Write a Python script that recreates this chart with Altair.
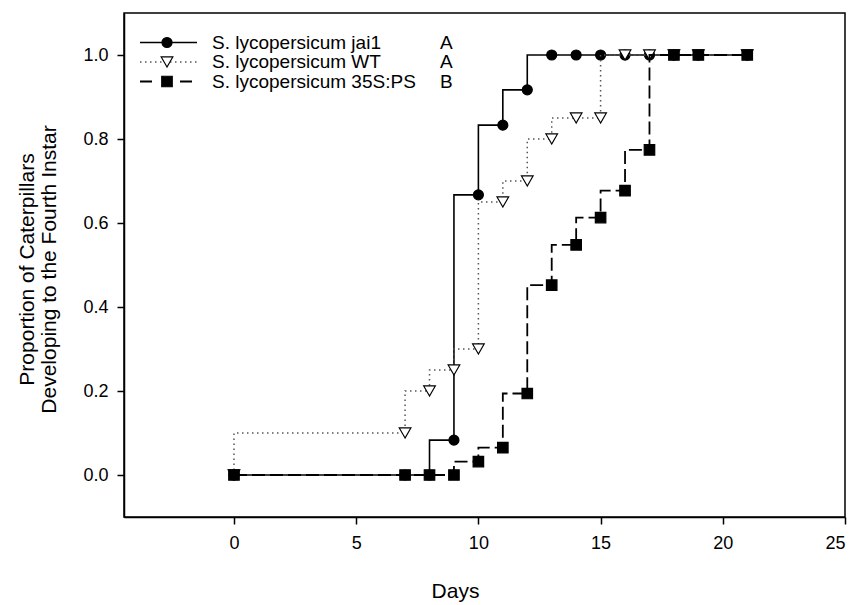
import altair as alt
import pandas as pd

# ---- data ----
days = [0, 7, 8, 9, 10, 11, 12, 13, 14, 15, 16, 17, 18, 19, 21]
jai1 = [0, 0, 0, 0.083, 0.667, 0.833, 0.917, 1, 1, 1, 1, 1, 1, 1, 1]
wt = [0, 0.1, 0.2, 0.25, 0.3, 0.65, 0.7, 0.8, 0.85, 0.85, 1, 1, 1, 1, 1]
ps = [0, 0, 0, 0, 0.032, 0.065, 0.194, 0.452, 0.548, 0.613, 0.677, 0.774, 1, 1, 1]
series_names = ["S. lycopersicum jai1", "S. lycopersicum WT", "S. lycopersicum 35S:PS"]
letters = ["A", "A", "B"]
x_ticks = [0, 5, 10, 15, 20, 25]
y_ticks = [0.0, 0.2, 0.4, 0.6, 0.8, 1.0]

FONT = "Liberation Sans"
W, H = 721, 504

xs = alt.Scale(domain=[-4.5, 25], nice=False, zero=False)
ys = alt.Scale(domain=[-0.1, 1.1], nice=False, zero=False)

styles = [
    dict(shape="circle", fill="black", size=100, dash=[1, 0], lw=1.6, col="black"),
    dict(shape="triangle-down", fill="white", size=135, dash=[1.5, 3.5], lw=1.5, col="#555555"),
    dict(shape="square", fill="black", size=110, dash=[13, 5], lw=1.8, col="black"),
]

layers = []
for name, vals, st in zip(series_names, [jai1, wt, ps], styles):
    df = pd.DataFrame({"Days": days, "P": vals, "series": name})
    base = alt.Chart(df)
    line = base.mark_line(interpolate="step-before", color=st["col"],
                          strokeWidth=st["lw"], strokeDash=st["dash"]).encode(
        x=alt.X("Days:Q", scale=xs),
        y=alt.Y("P:Q", scale=ys),
    )
    pts = base.mark_point(shape=st["shape"], filled=True, fill=st["fill"],
                          stroke="black", strokeWidth=1.2, size=st["size"],
                          opacity=1).encode(
        x=alt.X("Days:Q", scale=xs),
        y=alt.Y("P:Q", scale=ys),
    )
    layers += [line, pts]

# ---- axes (drawn by a layer with the axes defined) ----
axes = alt.Chart(pd.DataFrame({"Days": [0], "P": [0]})).mark_point(opacity=0).encode(
    x=alt.X("Days:Q", scale=xs, title="Days",
            axis=alt.Axis(values=x_ticks, format="d", grid=False, tickSize=7,
                          labelPadding=10, titleX=331, titleY=74,
                          titleBaseline="middle", titleAnchor="start", titleAlign="center")),
    y=alt.Y("P:Q", scale=ys,
            title=["Proportion of Caterpillars", "Developing to the Fourth Instar"],
            axis=alt.Axis(values=y_ticks, format=".1f", grid=False, tickSize=7,
                          labelPadding=9, titleX=-97, titleY=256, titleAngle=-90,
                          titleBaseline="middle", titleAlign="center", titleLineHeight=22)),
)

# ---- legend (inside the plot area, top-left) ----
row_y = [29.5, 49, 68.5]
leg = []
for i, (name, st) in enumerate(zip(series_names, styles)):
    y = row_y[i]
    if i == 2:
        segs = [(16, 28), (56, 68)]
    else:
        segs = [(16, 73)]
    for a, b in segs:
        leg.append(alt.Chart(pd.DataFrame({"k": [0]})).mark_rule(
            color=st["col"], strokeWidth=st["lw"],
            strokeDash=(st["dash"] if i == 1 else [1, 0])).encode(
            x=alt.value(a), x2=alt.value(b), y=alt.value(y)))
    leg.append(alt.Chart(pd.DataFrame({"k": [0]})).mark_point(
        shape=st["shape"], filled=True, fill=st["fill"], stroke="black",
        strokeWidth=1.2, size=st["size"], opacity=1).encode(
        x=alt.value(43), y=alt.value(y)))
    leg.append(alt.Chart(pd.DataFrame({"t": [name]})).mark_text(
        align="left", baseline="middle", font=FONT, fontSize=19, color="black").encode(
        x=alt.value(88), y=alt.value(y), text="t:N"))
    leg.append(alt.Chart(pd.DataFrame({"t": [letters[i]]})).mark_text(
        align="left", baseline="middle", font=FONT, fontSize=19, color="black").encode(
        x=alt.value(316), y=alt.value(y), text="t:N"))

chart = alt.layer(axes, *layers, *leg).properties(
    width=W, height=H,
    autosize=alt.AutoSizeParams(type="none"),
    padding={"left": 124, "top": 13, "right": 14, "bottom": 88},
    background="white",
).configure_view(
    stroke="black", strokeWidth=1.5
).configure_axis(
    labelFont=FONT, titleFont=FONT, labelFontSize=18, titleFontSize=21,
    titleFontWeight="normal", labelColor="black", titleColor="black",
    domainColor="black", tickColor="black", domainWidth=1.5, tickWidth=1.5,
)

chart.save("out.html", embed_options={"renderer": "svg", "actions": False})
